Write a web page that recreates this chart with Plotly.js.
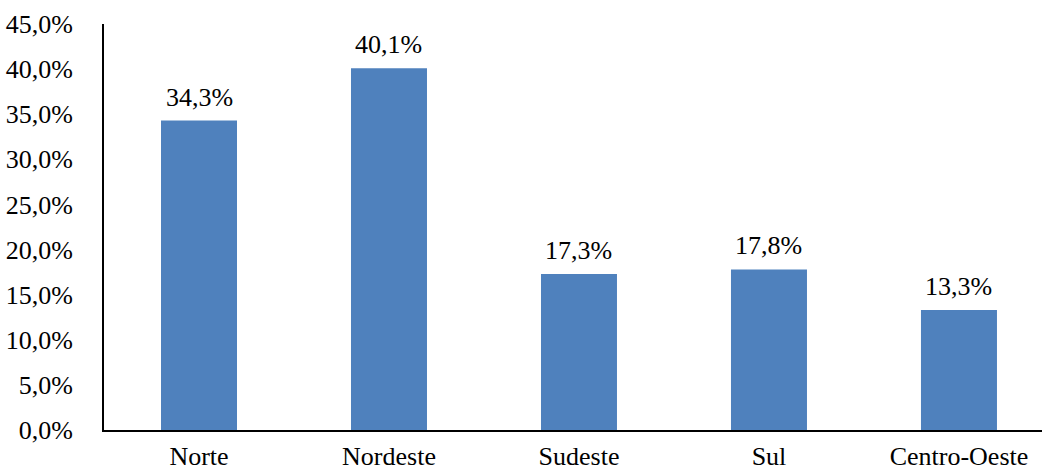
<!DOCTYPE html>
<html><head><meta charset="utf-8">
<script src="https://cdn.plot.ly/plotly-3.0.1.min.js"></script>
<style>html,body{margin:0;padding:0;background:#fff}</style>
</head><body><div id="chart" style="width:1042px;height:472px"></div>
<script>
const categories = ["Norte", "Nordeste", "Sudeste", "Sul", "Centro-Oeste"];
const values = [34.3, 40.1, 17.3, 17.8, 13.3];
const yTicks = [0, 5, 10, 15, 20, 25, 30, 35, 40, 45];
const yTickText = yTicks.map(v => v.toFixed(1).replace(".", ",") + "%");
const valueLabels = values.map(v => v.toFixed(1).replace(".", ",") + "%");

const font = {family: "Liberation Serif", size: 26, color: "#000"};
Plotly.newPlot("chart", [{
  type: "bar", x: categories, y: values, width: 0.4,
  marker: {color: "#4F81BD"}, hoverinfo: "skip"
}], {
  width: 1042, height: 472,
  margin: {l: 104, r: 0, t: 24, b: 42},
  paper_bgcolor: "#fff", plot_bgcolor: "#fff",
  font: font, showlegend: false,
  annotations: categories.map((c, i) => ({
    x: c, y: values[i], xref: "x", yref: "y", text: valueLabels[i],
    showarrow: false, yanchor: "bottom", yshift: 7, font: font
  })),
  xaxis: {range: [-0.5, 4.437], showline: true, linecolor: "#000", linewidth: 2,
          ticks: "", tickfont: font, ticklabelstandoff: 2, showgrid: false, zeroline: false},
  yaxis: {range: [0, 45], tickvals: yTicks, ticktext: yTickText,
          showline: true, linecolor: "#000", linewidth: 2, ticks: "", showgrid: false,
          zeroline: false, tickfont: font, ticklabelstandoff: 24}
}, {displayModeBar: false, staticPlot: true});
</script></body></html>
